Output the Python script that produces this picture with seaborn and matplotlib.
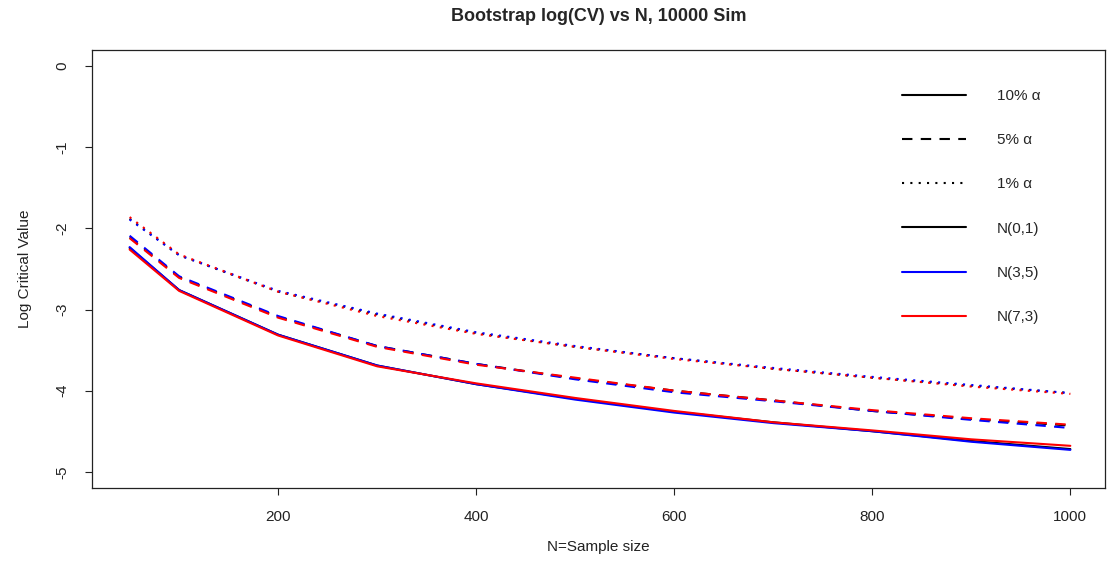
import numpy as np
import pandas as pd
import matplotlib
matplotlib.use('Agg')
import matplotlib.pyplot as plt
from matplotlib.lines import Line2D
import seaborn as sns

# Datos
sample_sizes = [50, 100, 200, 300, 400, 500, 600, 700, 800, 900, 1000]

# 10% alpha
cv10_n01 = [-2.24, -2.76, -3.31, -3.69, -3.92, -4.10, -4.26, -4.39, -4.50, -4.62, -4.72]
cv10_n35 = [-2.23, -2.76, -3.31, -3.69, -3.92, -4.11, -4.27, -4.40, -4.50, -4.63, -4.73]
cv10_n73 = [-2.26, -2.77, -3.32, -3.70, -3.91, -4.09, -4.25, -4.39, -4.49, -4.60, -4.68]

# 5% alpha
cv05_n01 = [-2.11, -2.60, -3.09, -3.45, -3.67, -3.85, -4.00, -4.12, -4.25, -4.35, -4.43]
cv05_n35 = [-2.09, -2.59, -3.08, -3.45, -3.67, -3.86, -4.02, -4.13, -4.25, -4.36, -4.46]
cv05_n73 = [-2.12, -2.61, -3.10, -3.46, -3.68, -3.84, -4.00, -4.12, -4.24, -4.34, -4.42]

# 1% alpha
cv01_n01 = [-1.88, -2.33, -2.78, -3.06, -3.29, -3.46, -3.60, -3.73, -3.84, -3.94, -4.03]
cv01_n35 = [-1.89, -2.33, -2.77, -3.05, -3.28, -3.45, -3.60, -3.72, -3.83, -3.93, -4.03]
cv01_n73 = [-1.86, -2.32, -2.78, -3.08, -3.30, -3.46, -3.61, -3.73, -3.84, -3.95, -4.04]

dist_names = ['N(0,1)', 'N(3,5)', 'N(7,3)']
alpha_names = ['10%', '5%', '1%']
dist_colors = ['black', 'blue', 'red']

series = {
    ('N(0,1)', '10%'): cv10_n01, ('N(3,5)', '10%'): cv10_n35, ('N(7,3)', '10%'): cv10_n73,
    ('N(0,1)', '5%'): cv05_n01, ('N(3,5)', '5%'): cv05_n35, ('N(7,3)', '5%'): cv05_n73,
    ('N(0,1)', '1%'): cv01_n01, ('N(3,5)', '1%'): cv01_n35, ('N(7,3)', '1%'): cv01_n73,
}

rows = []
for (dist, alpha), vals in series.items():
    for n, v in zip(sample_sizes, vals):
        rows.append({'N': n, 'logcv': v, 'dist': dist, 'alpha': alpha})
df = pd.DataFrame(rows)

sns.set_style('ticks')
plt.rcParams['font.family'] = ['Liberation Sans', 'DejaVu Sans']

fig = plt.figure(figsize=(11.07, 5.66), dpi=100)
ax = fig.add_axes([92 / 1107, 1 - 488 / 566, (1105 - 92) / 1107, (488 - 50) / 566])

dash_styles = {'10%': '', '5%': (5, 4), '1%': (1, 3)}
sns.lineplot(data=df, x='N', y='logcv', hue='dist', style='alpha',
             hue_order=dist_names, style_order=alpha_names,
             palette=dist_colors, dashes=dash_styles, linewidth=1.5,
             errorbar=None, legend=False, ax=ax)

ax.set_xlim(12, 1035)
ax.set_ylim(-5.2, 0.2)
ax.set_xticks([200, 400, 600, 800, 1000])
ax.set_yticks([0, -1, -2, -3, -4, -5])
ax.set_yticklabels(['0', '-1', '-2', '-3', '-4', '-5'], rotation=90, va='center')
ax.tick_params(axis='both', length=5, width=0.8, labelsize=11, colors='#222222', pad=11)
for sp in ax.spines.values():
    sp.set_linewidth(0.9)
    sp.set_color('#222222')

ax.set_xlabel('N=Sample size', fontsize=11, labelpad=11, color='#222222')
ax.set_ylabel('Log Critical Value', fontsize=11, labelpad=17, color='#222222')
ax.set_title('Bootstrap log(CV) vs N, 10000 Sim', fontsize=13, fontweight='bold', pad=21)

# Leyenda manual
handles = [
    Line2D([], [], color='black', lw=1.5, linestyle='-'),
    Line2D([], [], color='black', lw=1.5, linestyle=(0, (5, 4))),
    Line2D([], [], color='black', lw=1.5, linestyle=(0, (1, 3))),
    Line2D([], [], color='black', lw=1.5),
    Line2D([], [], color='blue', lw=1.5),
    Line2D([], [], color='red', lw=1.5),
]
labels = ['10% α', '5% α', '1% α', 'N(0,1)', 'N(3,5)', 'N(7,3)']
ax.legend(handles, labels, loc='upper left', bbox_to_anchor=(902 / 1107, 1 - 89 / 566),
          bbox_transform=fig.transFigure, frameon=False, fontsize=11,
          handlelength=4.2, handletextpad=2.0, labelspacing=1.98,
          borderpad=0, borderaxespad=0)

plt.savefig('out.png', dpi=100)
